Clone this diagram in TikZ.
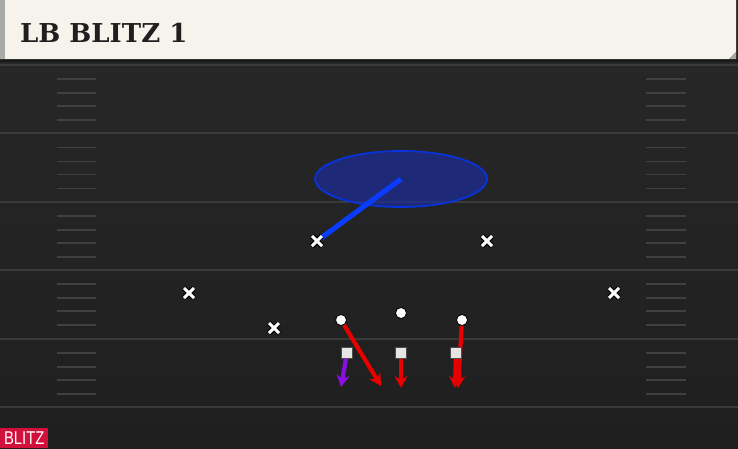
\documentclass[tikz,border=0pt]{standalone}
\usepackage{fontspec}
\newfontfamily\titlefont{DejaVu Serif}
\newfontfamily\tagfont{Liberation Sans}
\usetikzlibrary{arrows.meta, shapes.geometric, shapes.misc}

\definecolor{bar}{HTML}{F5F3EC}
\definecolor{barside}{HTML}{A9ABA8}
\definecolor{fieldtop}{HTML}{282828}
\definecolor{fieldbot}{HTML}{1F1F1F}
\definecolor{yard}{HTML}{3A3A3A}
\definecolor{hash}{HTML}{404040}
\definecolor{zoneblue}{HTML}{1A2DB0}
\definecolor{lineblue}{HTML}{0A3CFF}
\definecolor{routered}{HTML}{E60000}
\definecolor{routepurple}{HTML}{8A10E0}
\definecolor{tagred}{HTML}{D2103C}

\tikzset{
	xmark/.style={cross out, draw=white, line width=3pt, minimum size=7pt, inner sep=0pt,
		preaction={draw=black, line width=5pt}},
	omark/.style={circle, draw=black, fill=white, line width=0.8pt, minimum size=11pt, inner sep=0pt},
	smark/.style={rectangle, draw=black!70, fill=white!90!black, line width=0.7pt, minimum size=10.5pt, inner sep=0pt},
	route/.style={line width=4.2pt, -{Stealth[length=12pt, width=13pt, inset=4pt]}},
}

\begin{document}
\begin{tikzpicture}[x=1pt, y=-1pt]
			\useasboundingbox (0,0) rectangle (738,448);
			\shade[top color=fieldtop, bottom color=fieldbot] (0,0) rectangle (738,448);
			\foreach \k in {0,...,5} {
				\draw[yard, line width=2pt] (0,65+68.4*\k) -- (738,65+68.4*\k);
			}
			\foreach \k in {0,...,4} {
				\foreach \d in {14,28,41,55} {
					\draw[hash, line width=1.8pt] (57,65+68.4*\k+\d) -- (96,65+68.4*\k+\d);
					\draw[hash, line width=1.8pt] (646,65+68.4*\k+\d) -- (686,65+68.4*\k+\d);
				}
			}
			\fill[black!90] (0,59) rectangle (738,62);
			\fill[bar] (0,0) -- (736,0) -- (736,52) -- (729,59) -- (0,59) -- cycle;
			\fill[barside] (0,0) rectangle (5,59);
			\fill[black!35] (736,52) -- (729,59) -- (736,59) -- cycle;
			\node[anchor=base west, inner sep=0pt, font=\titlefont\bfseries\fontsize{26}{26}\selectfont, text=black!88] (title) at (20,42) {LB BLITZ 1};

			\node[ellipse, draw=lineblue!85!black, line width=1.8pt, fill=zoneblue, fill opacity=0.6, minimum width=172pt, minimum height=56pt] (zone) at (401,179) {};

			\node[xmark] (lb) at (317,241) {};
			\node[xmark] (x2) at (487,241) {};
			\node[xmark] (x3) at (189,293) {};
			\node[xmark] (x4) at (614,293) {};
			\node[xmark] (x5) at (274,328) {};

			\node[omark] (te) at (341,320) {};
			\node[omark] (qb) at (401,313) {};
			\node[omark] (rb) at (462,320) {};

			\node[smark] (lg) at (347,353) {};
			\node[smark] (cn) at (401,353) {};
			\node[smark] (rg) at (456,353) {};

			\coordinate (lg end) at (341,387);
			\coordinate (te end) at (381,386);
			\coordinate (cn end) at (401,388);
			\coordinate (rb end) at (458,388);
			\coordinate (rg end) at (455,388);

			\draw[lineblue, line width=5pt] (lb.center) -- (zone.center);
			\node[xmark] at (lb) {};
			\draw[route, routepurple] (lg) -- (lg end);
			\draw[route, routered] (te) -- (te end);
			\draw[route, routered] (cn) -- (cn end);
			\draw[route, routered] (rg) -- (rg end);
			\draw[route, routered] (rb) -- (rb end);
			\node[smark] at (rg) {};

			\node[fill=tagred, text=white, anchor=south west, inner sep=0pt, minimum width=48pt, minimum height=20pt, font=\tagfont\fontsize{18.5}{18.5}\selectfont] (tag) at (0,448) {\scalebox{0.8}[1]{BLITZ}};
		\end{tikzpicture}
\end{document}
